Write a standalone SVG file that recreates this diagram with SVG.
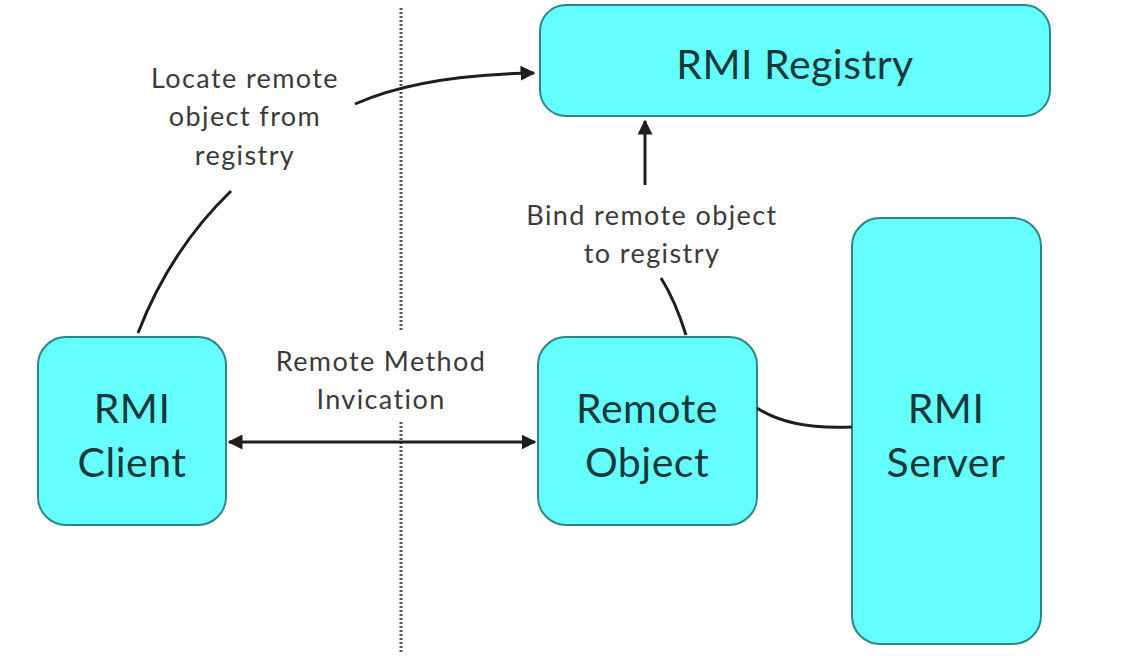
<svg xmlns="http://www.w3.org/2000/svg" width="1128" height="656" viewBox="0 0 1128 656">
<style>
.node rect{fill:#66FFFF;stroke:#2E8585;stroke-width:2}
.nt{font-family:Lato,"Open Sans",sans-serif;font-size:41px;letter-spacing:0.5px;fill:#173838;text-anchor:middle}
.lb{font-family:Lato,"Open Sans",sans-serif;font-size:27px;letter-spacing:1.4px;fill:#3a3a3a;text-anchor:middle}
.c{fill:none;stroke:#1e1e1e;stroke-width:3}
.div{stroke:#555;stroke-width:3;stroke-dasharray:2 2}
</style>
<defs>
<marker id="ah" viewBox="0 0 10 10" refX="9" refY="5" markerWidth="5" markerHeight="5" orient="auto-start-reverse" markerUnits="strokeWidth">
<path d="M0,0 L10,5 L0,10 z" fill="#1e1e1e"/>
</marker>
</defs>
<rect width="1128" height="656" fill="#fff"/>
<line class="div" x1="401" y1="8" x2="401" y2="332"/>
<line class="div" x1="401" y1="422" x2="401" y2="652"/>
<g id="registry" class="node"><rect x="540" y="5" width="510" height="111" rx="26"/><text class="nt" x="795" y="79">RMI Registry</text></g>
<g id="client" class="node"><rect x="38" y="337" width="188" height="188" rx="28"/><text class="nt" x="132" y="423">RMI</text><text class="nt" x="132" y="477">Client</text></g>
<g id="remoteobject" class="node"><rect x="538" y="337" width="219" height="188" rx="28"/><text class="nt" x="647" y="423">Remote</text><text class="nt" x="647" y="477">Object</text></g>
<g id="server" class="node"><rect x="852" y="218" width="189" height="426" rx="28"/><text class="nt" x="946" y="423">RMI</text><text class="nt" x="946" y="477">Server</text></g>
<g id="connectors">
<path class="c" d="M138,333 Q170,250 231,191"/>
<path class="c" d="M355,104 Q420,75 534,73" marker-end="url(#ah)"/>
<path class="c" d="M229,442 L535,442" marker-start="url(#ah)" marker-end="url(#ah)"/>
<path class="c" d="M686,335 Q675,300 661,278"/>
<path class="c" d="M645,185 L645,121" marker-end="url(#ah)"/>
<path class="c" d="M757,408 Q790,430 852,427"/>
</g>
<g id="labels">
<text class="lb" x="245" y="88">Locate remote</text>
<text class="lb" x="245" y="126">object from</text>
<text class="lb" x="245" y="165">registry</text>
<text class="lb" x="652" y="225">Bind remote object</text>
<text class="lb" x="652" y="263">to registry</text>
<text class="lb" x="381" y="371">Remote Method</text>
<text class="lb" x="381" y="409">Invication</text>
</g>
</svg>
